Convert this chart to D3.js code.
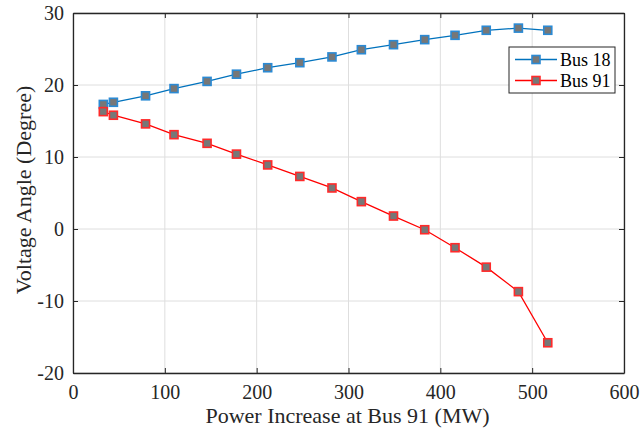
<!DOCTYPE html>
<html>
<head>
<meta charset="utf-8">
<script src="https://cdn.jsdelivr.net/npm/d3@7"></script>
<style>
  body { margin: 0; background: #fff; }
</style>
</head>
<body>
<svg id="chart" width="640" height="434"></svg>
<script>
// values
const powerMW = [33, 44, 79, 110, 146, 178, 212, 247, 282, 314, 349, 383, 416, 450, 485, 517];
const bus18 = [17.3, 17.6, 18.5, 19.5, 20.5, 21.5, 22.4, 23.1, 23.9, 24.9, 25.6, 26.3, 26.9, 27.6, 27.9, 27.6];
const bus91 = [16.3, 15.8, 14.6, 13.1, 11.9, 10.4, 8.9, 7.3, 5.7, 3.8, 1.8, -0.1, -2.6, -5.3, -8.7, -15.8];
const xTicks = [0, 100, 200, 300, 400, 500, 600];
const yTicks = [-20, -10, 0, 10, 20, 30];
const seriesNames = ["Bus 18", "Bus 91"];
const seriesColors = ["#0072BD", "#FF0000"];
const markerEdges = ["#2b8ad4", "#ff2a2a"];

const serif = "'Liberation Serif', 'Times New Roman', serif";
const margin = { top: 13, right: 16, bottom: 61, left: 73 };
const svg = d3.select("#chart");
const width = 640 - margin.left - margin.right;
const height = 434 - margin.top - margin.bottom;

const x = d3.scaleLinear().domain([0, 600]).range([0, width]);
const y = d3.scaleLinear().domain([-20, 30]).range([height, 0]);

const g = svg.append("g").attr("transform", `translate(${margin.left},${margin.top})`);

// grid
g.append("g")
  .selectAll("line")
  .data(xTicks)
  .join("line")
  .attr("x1", (d) => x(d)).attr("x2", (d) => x(d))
  .attr("y1", 0).attr("y2", height)
  .attr("stroke", "#dedede").attr("stroke-width", 1);
g.append("g")
  .selectAll("line")
  .data(yTicks)
  .join("line")
  .attr("y1", (d) => y(d)).attr("y2", (d) => y(d))
  .attr("x1", 0).attr("x2", width)
  .attr("stroke", "#dedede").attr("stroke-width", 1);

// axes
const axisColor = "#262626";
const fmt = (d) => String(d);
const xAxis = g.append("g")
  .attr("transform", `translate(0,${height})`)
  .call(d3.axisBottom(x).tickValues(xTicks).tickFormat(fmt).tickSize(-5).tickPadding(12).tickSizeOuter(0));
const yAxis = g.append("g")
  .call(d3.axisLeft(y).tickValues(yTicks).tickFormat(fmt).tickSize(-5).tickPadding(9).tickSizeOuter(0));
const xTop = g.append("g")
  .call(d3.axisTop(x).tickValues(xTicks).tickSize(-5).tickFormat("").tickSizeOuter(0));
const yRight = g.append("g")
  .attr("transform", `translate(${width},0)`)
  .call(d3.axisRight(y).tickValues(yTicks).tickSize(-5).tickFormat("").tickSizeOuter(0));

[xAxis, yAxis, xTop, yRight].forEach((a) => {
  a.attr("font-family", serif).attr("font-size", 20);
  a.select(".domain").attr("stroke", axisColor).attr("stroke-width", 1.3);
  a.selectAll(".tick line").attr("stroke", axisColor);
  a.selectAll(".tick text").attr("fill", axisColor);
});

// axis titles
g.append("text")
  .attr("x", width / 2 - 1)
  .attr("y", height + 50)
  .attr("text-anchor", "middle")
  .attr("fill", axisColor)
  .attr("font-family", serif)
  .attr("font-size", 22)
  .text("Power Increase at Bus 91 (MW)");
g.append("text")
  .attr("transform", `translate(-42,${height / 2 - 3}) rotate(-90)`)
  .attr("text-anchor", "middle")
  .attr("fill", axisColor)
  .attr("font-family", serif)
  .attr("font-size", 22)
  .text("Voltage Angle (Degree)");

// series
const allSeries = [bus18, bus91];
const line = d3.line().x((d, i) => x(powerMW[i])).y((d) => y(d));
const mk = 8;

allSeries.forEach((vals, s) => {
  g.append("path")
    .datum(vals)
    .attr("fill", "none")
    .attr("stroke", seriesColors[s])
    .attr("stroke-width", 1.3)
    .attr("d", line);
  g.append("g")
    .selectAll("rect")
    .data(vals)
    .join("rect")
    .attr("x", (d, i) => x(powerMW[i]) - mk / 2)
    .attr("y", (d) => y(d) - mk / 2)
    .attr("width", mk)
    .attr("height", mk)
    .attr("fill", "#777777")
    .attr("stroke", markerEdges[s])
    .attr("stroke-width", 1.6);
});

// legend
const legend = g.append("g").attr("transform", `translate(${436},${34})`);
legend.append("rect")
  .attr("width", 106).attr("height", 46)
  .attr("fill", "#fff").attr("stroke", axisColor).attr("stroke-width", 1);
seriesNames.forEach((name, s) => {
  const ly = 12.5 + s * 21;
  legend.append("line")
    .attr("x1", 6).attr("x2", 48).attr("y1", ly).attr("y2", ly)
    .attr("stroke", seriesColors[s]).attr("stroke-width", 1.3);
  legend.append("rect")
    .attr("x", 27 - mk / 2).attr("y", ly - mk / 2)
    .attr("width", mk).attr("height", mk)
    .attr("fill", "#777777")
    .attr("stroke", markerEdges[s]).attr("stroke-width", 1.6);
  legend.append("text")
    .attr("x", 51).attr("y", ly + 6)
    .attr("fill", "#000")
    .attr("font-family", serif)
    .attr("font-size", 18)
    .text(name);
});
</script>
</body>
</html>
